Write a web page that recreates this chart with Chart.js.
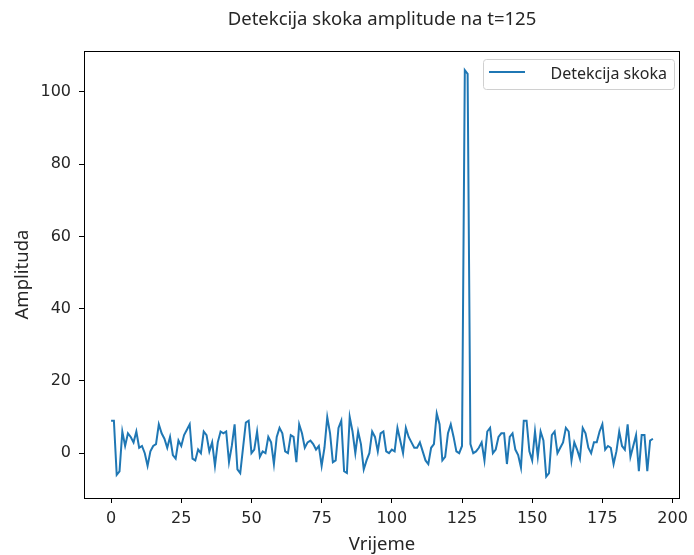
<!DOCTYPE html>
<html>
<head>
<meta charset="utf-8">
<script src="https://cdn.jsdelivr.net/npm/chart.js@4"></script>
<style>
  html, body { margin: 0; padding: 0; background: #fff; }
</style>
</head>
<body>
<canvas id="lineChart" width="694" height="555"></canvas>
<script>
// Amplitude values, one per time step
const amplituda = [
    9, 9, -6, -5, 6, 2, 5.5, 4.5, 3, 6,
    1.5, 2, 0, -3.5, 0.5, 2, 2.5, 8, 5.5, 4,
    1.5, 4.5, -0.5, -1.5, 3.5, 2, 5, 6.5, 8, -1.5,
    -2, 1, 0, 6, 5, 0.5, 3, -3.5, 3, 6,
    5.5, 6, -2.5, 2, 8, -4.5, -5.5, 1.5, 8.5, 9,
    0, 1, 6, -1, 0.5, 0, 4.5, 3, -3, 4.5,
    7, 5.5, 0.5, 0, 5, 4.5, -2.5, 8, 5.5, 1.5,
    3, 3.5, 2.5, 1, 2, -3.5, 1.5, 10, 5.5, -2.5,
    -2, 7, 9, -5, -5.5, 10, 6, 0, 6, 2.5,
    -4.5, -2, 0, 6, 4.5, 0.5, 5.5, 6, 0.5, 0,
    1, 0.5, 7, 3.5, 0, 7, 4.5, 3, 1.5, 1.5,
    3, 0.5, -2, -3, 1.5, 2.5, 11, 8, -2, -1,
    5.5, 8, 4.5, 0.5, 0, 2, 106, 105, 2.5, 0,
    0.5, 1.5, 3, -2, 6, 7, 0, 1, 4.5, 5.5,
    5.5, -3, 4.5, 5.5, 1, -0.5, -4, 9, 9, 0.5,
    -2, 6, -1, 6, 3.5, -6.5, -5.5, 5, 6, 0,
    1.5, 3, 7, 6, -2, 3, 1, -1.5, 7, 5.5,
    1.5, 0, 3, 3, 6, 8, 1, 2, 1.5, -3,
    0.5, 6, 2, 1, 8, -1, 2, 5, -5, 5,
    5, -5, 3.5, 4
];
// Time index for each sample
const vrijeme = amplituda.map((_, i) => i);

// Tick labels
const xTicks = [0, 25, 50, 75, 100, 125, 150, 175, 200];
const yTicks = [0, 20, 40, 60, 80, 100];

const seriesLabel = 'Detekcija skoka';
const titleText = 'Detekcija skoka amplitude na t=125';

// Box around the plot plus a matplotlib-like legend
const frameAndLegend = {
    id: 'frameAndLegend',
    afterDraw(chart) {
        const { ctx, chartArea } = chart;
        ctx.save();
        ctx.strokeStyle = '#000';
        ctx.lineWidth = 1;
        ctx.strokeRect(Math.round(chartArea.left) + 0.5, Math.round(chartArea.top) + 0.5,
            Math.round(chartArea.right - chartArea.left) - 1, Math.round(chartArea.bottom - chartArea.top));

        // legend box
        const w = 191, h = 30;
        const x = chartArea.right - 6 - w;
        const y = chartArea.top + 8;
        ctx.beginPath();
        ctx.roundRect(x + 0.5, y + 0.5, w, h, 3);
        ctx.fillStyle = 'rgba(255,255,255,0.8)';
        ctx.fill();
        ctx.strokeStyle = '#d0d0d0';
        ctx.stroke();

        ctx.beginPath();
        ctx.moveTo(x + 6, y + 13);
        ctx.lineTo(x + 42, y + 13);
        ctx.strokeStyle = '#1f77b4';
        ctx.lineWidth = 2;
        ctx.stroke();

        ctx.fillStyle = '#262626';
        ctx.font = '16px "Noto Sans"';
        ctx.textAlign = 'right';
        ctx.textBaseline = 'middle';
        ctx.fillText(chart.data.datasets[0].label, x + w - 7, y + 15);
        ctx.restore();
    }
};

const ctx = document.getElementById('lineChart').getContext('2d');

const lineChart = new Chart(ctx, {
    type: 'line',
    data: {
        datasets: [{
            label: seriesLabel,
            data: vrijeme.map((t, i) => ({ x: t, y: amplituda[i] })),
            borderColor: '#1f77b4',
            borderWidth: 2,
            pointRadius: 0,
            tension: 0,
            fill: false
        }]
    },
    options: {
        responsive: false,
        animation: false,
        layout: { padding: { left: 0, right: 11, top: 0, bottom: 0 } },
        plugins: {
            legend: { display: false },
            tooltip: { enabled: false },
            title: {
                display: true,
                text: titleText,
                fullSize: false,
                color: '#262626',
                font: { family: 'Noto Sans', size: 18.5, weight: 'normal', lineHeight: 1.2 },
                padding: { top: 9, bottom: 19.8 }
            }
        },
        scales: {
            x: {
                type: 'linear',
                min: -9.65,
                max: 202.65,
                afterBuildTicks: (scale) => { scale.ticks = xTicks.map(v => ({ value: v })); },
                afterFit: (scale) => { scale.height = 57; },
                grid: { display: true, drawOnChartArea: false, drawTicks: true, tickLength: 5, tickColor: '#000' },
                border: { display: true, color: '#000', width: 1 },
                ticks: {
                    color: '#262626',
                    padding: 6,
                    maxRotation: 0,
                    font: { family: 'DejaVu Sans', size: 16 }
                },
                title: {
                    display: true,
                    text: 'Vrijeme',
                    color: '#262626',
                    font: { family: 'Noto Sans', size: 18.5, lineHeight: 1.1 },
                    padding: { top: 0, bottom: 0 }
                }
            },
            y: {
                min: -12.4,
                max: 111.3,
                afterBuildTicks: (scale) => { scale.ticks = yTicks.map(v => ({ value: v })); },
                afterFit: (scale) => { scale.width = 84; },
                grid: { display: true, drawOnChartArea: false, drawTicks: true, tickLength: 5, tickColor: '#000' },
                border: { display: true, color: '#000', width: 1 },
                ticks: {
                    color: '#262626',
                    padding: 8,
                    font: { family: 'DejaVu Sans', size: 16 }
                },
                title: {
                    display: true,
                    text: 'Amplituda',
                    color: '#262626',
                    font: { family: 'Noto Sans', size: 18.5, lineHeight: 1.2 },
                    padding: { top: 11.4, bottom: 0 }
                }
            }
        }
    },
    plugins: [frameAndLegend]
});
</script>
</body>
</html>
